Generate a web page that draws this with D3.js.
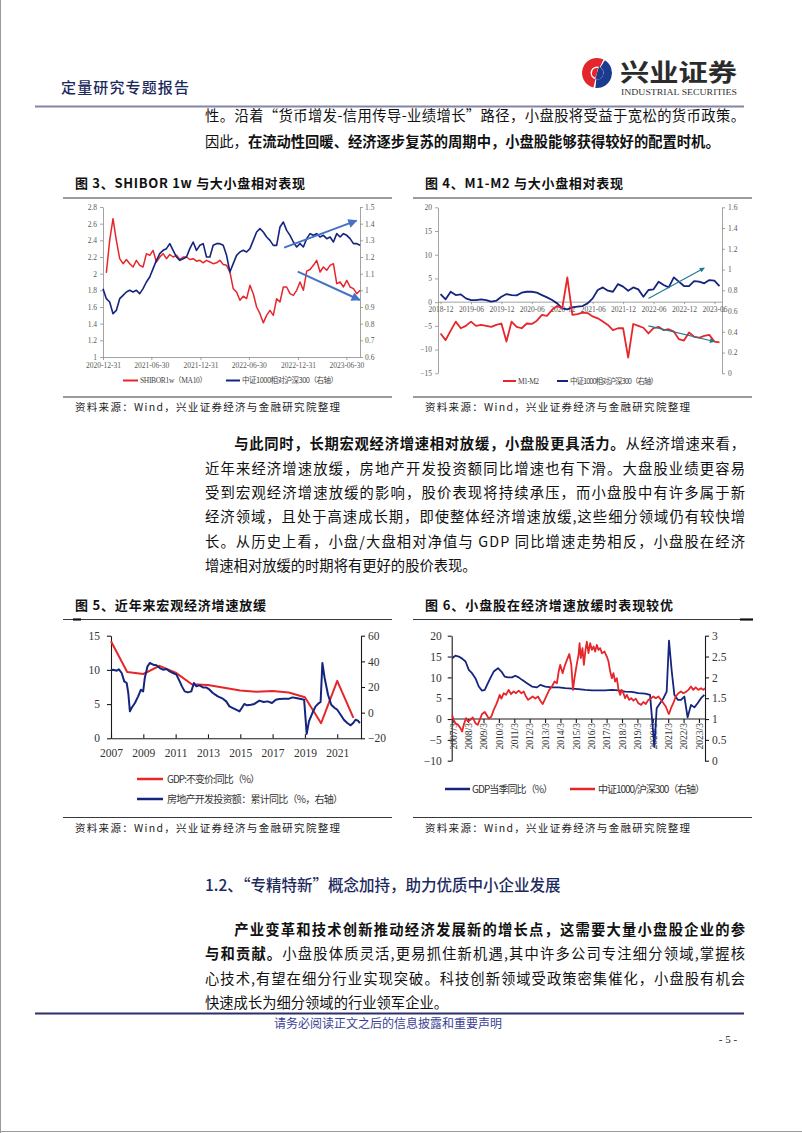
<!DOCTYPE html>
<html><head><meta charset="utf-8">
<script src="https://cdn.jsdelivr.net/npm/d3@7"></script>
<style>body{margin:0;background:#fff}svg{display:block}</style>
</head><body>
<svg id="page" width="802" height="1133"></svg>
<script>
// ================= DATA =================
// Chart 3: SHIBOR 1w (MA10) vs CSI1000 / CSI300 relative
const c3Start = "2020-12-31";           // first point of rel3, points every 12.5 days
const c3StepHours = 300;
const c3Ticks = ["2020-12-31","2021-06-30","2021-12-31","2022-06-30","2022-12-31","2023-06-30"];
const c3LeftTicks = [1,1.2,1.4,1.6,1.8,2,2.2,2.4,2.6,2.8];
const c3RightTicks = [0.6,0.7,0.8,0.9,1,1.1,1.2,1.3,1.4,1.5];
const rel3 = [1.01,0.95,0.93,0.86,0.88,0.95,0.97,0.99,1.00,0.99,
  1.00,0.98,1.01,1.05,1.08,1.13,1.18,1.22,1.24,1.25,
  1.28,1.24,1.20,1.18,1.19,1.20,1.25,1.29,1.24,1.27,
  1.28,1.20,1.20,1.27,1.28,1.28,1.27,1.21,1.11,1.16,
  1.21,1.23,1.24,1.23,1.25,1.30,1.35,1.37,1.35,1.32,
  1.30,1.27,1.27,1.38,1.41,1.36,1.33,1.29,1.26,1.28,
  1.26,1.31,1.34,1.33,1.34,1.32,1.33,1.31,1.32,1.29,
  1.34,1.32,1.34,1.33,1.31,1.28,1.28,1.27];
const shibor = [2.01,2.40,2.66,2.40,2.18,2.12,2.17,2.12,2.08,2.16,
  2.10,2.08,2.24,2.22,2.28,2.14,2.20,2.24,2.18,2.23,
  2.20,2.22,2.17,2.20,2.20,2.17,2.18,2.15,2.16,2.13,
  2.16,2.14,2.12,2.13,2.16,2.11,2.10,2.02,1.82,1.78,
  1.68,1.73,1.70,1.86,1.76,1.60,1.52,1.41,1.50,1.56,
  1.50,1.70,1.66,1.84,1.84,1.76,1.74,1.80,1.90,1.80,
  2.03,2.05,2.10,2.16,2.02,2.08,2.04,2.10,2.12,1.88,
  1.90,1.84,1.92,1.84,1.82,1.76,1.80];   // starts one step after c3Start
const arrows3 = [
  {axis:"R", from:["2022-11-09",1.256], to:["2023-08-07",1.418]},
  {axis:"L", from:["2022-12-30",2.024], to:["2023-08-19",1.684]}
];

// Chart 4: M1-M2 vs relative performance, monthly 2018-12 .. 2023-07
const c4FirstMonth = "2018-12";
const c4EndMonth = "2023-08";   // exclusive
const c4LabelMonths = ["2018-12","2019-06","2019-12","2020-06","2020-12","2021-06","2021-12","2022-06","2022-12","2023-06"];
const c4LeftTicks = [-15,-10,-5,0,5,10,15,20];
const c4RightTicks = [0,0.2,0.4,0.6,0.8,1,1.2,1.4,1.6];
const m1m2 = [-6.6,-8.0,-6.0,-4.1,-5.5,-5.0,-4.1,-5.0,-4.8,-5.0,
  -5.2,-4.8,-4.5,-8.3,-4.1,-5.2,-5.5,-4.5,-4.6,-3.9,
  -2.7,-2.9,-1.6,-0.8,-1.3,5.2,-2.7,-2.5,-2.2,-2.3,
  -3.0,-3.4,-4.1,-4.8,-5.9,-5.5,-5.5,-11.7,-4.6,-5.0,
  -5.4,-6.6,-5.5,-5.2,-5.9,-5.7,-6.2,-7.8,-8.1,-6.4,
  -7.3,-7.5,-7.1,-6.9,-8.3,-8.5];
const rel4 = [0.764,0.713,0.786,0.754,0.761,0.722,0.706,0.706,0.713,0.706,
  0.690,0.700,0.738,0.764,0.754,0.751,0.777,0.786,0.786,0.777,
  0.754,0.732,0.706,0.674,0.626,0.616,0.635,0.642,0.648,0.674,
  0.722,0.803,0.828,0.796,0.786,0.860,0.835,0.796,0.828,0.809,
  0.738,0.803,0.809,0.883,0.851,0.828,0.925,0.883,0.841,0.841,
  0.889,0.883,0.867,0.899,0.893,0.841];
const arrows4 = [
  {axis:"R", from:["2022-05",0.72], to:["2023-04",1.015]},
  {axis:"L", from:["2022-05",-5.0], to:["2023-06",-8.3]}
];

// Chart 5: GDP (annual) and real estate investment (cumulative yoy, right axis)
const gdpYears = [2007,2008,2009,2010,2011,2012,2013,2014,2015,2016,2017,2018,2019,2020,2021,2022];
const gdpAnnual = [14.2,9.7,9.4,10.6,9.6,7.9,7.8,7.4,7.0,6.8,6.9,6.7,6.0,2.2,8.4,3.0];
const reTime = [2007.00,2007.14,2007.35,2007.49,2007.66,2007.82,2007.97,2008.07,2008.17,2008.27,
  2008.48,2008.68,2008.85,2008.99,2009.09,2009.26,2009.40,2009.61,2009.81,2010.02,
  2010.22,2010.43,2010.63,2010.84,2011.05,2011.25,2011.39,2011.56,2011.76,2011.97,
  2012.13,2012.28,2012.48,2012.69,2012.89,2013.10,2013.30,2013.61,2013.92,2014.13,
  2014.33,2014.54,2014.74,2014.95,2015.09,2015.25,2015.42,2015.66,2015.87,2016.18,
  2016.45,2016.69,2016.96,2017.20,2017.41,2017.72,2018.02,2018.23,2018.44,2018.75,
  2018.95,2019.11,2019.25,2019.46,2019.66,2019.87,2019.97,2020.08,2020.22,2020.43,
  2020.63,2020.84,2021.00,2021.21,2021.41,2021.62,2021.83,2021.99,2022.13,2022.28,2022.40];
const reInv = [32.7,33.5,32.7,33.8,30.9,24.4,23.1,15.3,1.0,3.6,
  7.5,12.7,17.9,16.6,27.0,36.1,38.7,37.4,36.9,34.8,
  33.5,34.0,32.2,30.9,29.6,24.4,20.5,16.6,15.8,16.6,
  23.1,20.5,21.3,19.7,19.7,17.9,15.3,12.7,10.9,8.8,
  4.9,3.6,2.3,1.0,3.6,6.8,5.7,6.2,6.8,9.4,
  8.3,8.8,7.5,10.1,10.6,10.9,10.9,11.9,11.4,10.6,
  10.1,-16.6,-6.8,-0.3,4.9,7.5,8.3,38.7,27.0,14.0,
  6.2,3.6,2.3,-1.6,-5.5,-8.1,-9.9,-8.1,-5.5,-6.2,-8.1];
const c5XTicks = [2007,2009,2011,2013,2015,2017,2019,2021];
const c5LeftTicks = [0,5,10,15];
const c5RightTicks = [-20,0,20,40,60];

// Chart 6: quarterly GDP yoy and CSI1000/CSI300 (right axis)
const gdpQTime = [2007.13,2007.34,2007.56,2007.78,2008.00,2008.21,2008.42,2008.64,2008.86,2009.07,
  2009.25,2009.40,2009.61,2009.83,2010.11,2010.33,2010.54,2010.76,2011.02,2011.23,
  2011.45,2011.67,2011.99,2012.32,2012.64,2012.86,2013.18,2013.61,2014.05,2014.48,
  2014.91,2015.34,2015.78,2016.21,2016.64,2017.07,2017.51,2017.94,2018.37,2018.80,
  2019.23,2019.67,2019.99,2020.27,2020.42,2020.64,2020.86,2021.07,2021.22,2021.40,
  2021.57,2021.79,2022.00,2022.22,2022.43,2022.65,2022.87,2023.08,2023.30,2023.52];
const gdpQ = [14.6,15.2,15.0,14.5,13.8,11.8,11.0,9.8,7.8,6.8,
  7.0,8.2,9.8,11.4,12.2,11.4,10.2,10.0,10.0,10.4,
  10.0,9.4,8.6,7.8,7.6,8.2,7.8,7.6,7.6,7.4,
  7.3,7.2,7.0,6.9,6.9,6.9,7.0,6.9,6.6,6.5,
  6.2,6.1,5.8,-6.7,2.6,3.8,5.0,6.6,18.8,11.4,
  5.8,4.6,4.6,5.4,0.4,3.4,2.8,3.8,5.0,5.8];
const ratioTime = [2007.13,2007.23,2007.34,2007.52,2007.67,2007.78,2007.88,2008.03,2008.16,2008.32,
  2008.47,2008.64,2008.79,2008.92,2009.07,2009.25,2009.38,2009.51,2009.68,2009.83,
  2009.98,2010.11,2010.22,2010.33,2010.48,2010.63,2010.80,2010.95,2011.13,2011.28,
  2011.45,2011.62,2011.78,2011.93,2012.06,2012.21,2012.36,2012.53,2012.71,2012.86,
  2013.01,2013.14,2013.29,2013.44,2013.61,2013.79,2013.94,2014.05,2014.15,2014.31,
  2014.43,2014.59,2014.74,2014.87,2014.98,2015.08,2015.24,2015.34,2015.41,2015.49,
  2015.60,2015.69,2015.78,2015.88,2015.99,2016.10,2016.21,2016.32,2016.42,2016.53,
  2016.64,2016.75,2016.86,2017.03,2017.18,2017.29,2017.40,2017.51,2017.61,2017.72,
  2017.83,2017.94,2018.05,2018.15,2018.26,2018.37,2018.48,2018.63,2018.76,2018.91,
  2019.06,2019.23,2019.41,2019.56,2019.71,2019.88,2020.06,2020.21,2020.36,2020.53,
  2020.71,2020.86,2021.01,2021.14,2021.22,2021.35,2021.50,2021.66,2021.83,2022.00,
  2022.15,2022.31,2022.48,2022.65,2022.80,2022.95,2023.13,2023.30,2023.45,2023.56];
const ratio = [1.09,0.98,0.90,0.86,0.78,0.70,0.86,1.02,0.94,0.98,
  1.04,0.90,0.86,0.98,1.12,1.17,1.09,1.01,1.06,1.22,
  1.34,1.46,1.58,1.49,1.62,1.58,1.70,1.60,1.66,1.62,
  1.68,1.62,1.66,1.54,1.46,1.50,1.54,1.49,1.54,1.44,
  1.36,1.46,1.58,1.70,1.78,1.90,1.86,2.14,2.30,2.10,
  2.26,2.42,2.56,2.30,1.70,1.98,2.34,2.54,2.82,2.46,
  2.70,2.30,2.62,2.86,2.58,2.82,2.66,2.74,2.62,2.78,
  2.66,2.70,2.58,2.62,2.50,2.38,2.14,1.98,2.10,1.90,
  1.98,1.70,1.58,1.70,1.62,1.50,1.58,1.46,1.50,1.44,
  1.49,1.38,1.34,1.41,1.36,1.46,1.50,1.54,1.50,1.54,
  1.46,1.38,1.30,1.18,1.12,1.26,1.38,1.54,1.62,1.66,
  1.62,1.65,1.70,1.78,1.70,1.76,1.70,1.74,1.70,1.74];
const c6XYears = [2007,2008,2009,2010,2011,2012,2013,2014,2015,2016,2017,2018,2019,2020,2021,2022,2023];
const c6LeftTicks = [-10,-5,0,5,10,15,20];
const c6RightTicks = [0,0.5,1,1.5,2,2.5,3];

// Texts
const para1 = [
  [["性。沿着“货币增发-信用传导-业绩增长”路径，小盘股将受益于宽松的货币政策。",0]],
  [["因此，",0],["在流动性回暖、经济逐步复苏的周期中，小盘股能够获得较好的配置时机。",1]]
];
const para2 = [
  [["与此同时，长期宏观经济增速相对放缓，小盘股更具活力。",1],["从经济增速来看，",0]],
  [["近年来经济增速放缓，房地产开发投资额同比增速也有下滑。大盘股业绩更容易",0]],
  [["受到宏观经济增速放缓的影响，股价表现将持续承压，而小盘股中有许多属于新",0]],
  [["经济领域，且处于高速成长期，即使整体经济增速放缓,这些细分领域仍有较快增",0]],
  [["长。从历史上看，小盘/大盘相对净值与 GDP 同比增速走势相反，小盘股在经济",0]],
  [["增速相对放缓的时期将有更好的股价表现。",0]]
];
const para3 = [
  [["产业变革和技术创新推动经济发展新的增长点，这需要大量小盘股企业的参",1]],
  [["与和贡献。",1],["小盘股体质灵活,更易抓住新机遇,其中许多公司专注细分领域,掌握核",0]],
  [["心技术,有望在细分行业实现突破。科技创新领域受政策密集催化，小盘股有机会",0]],
  [["快速成长为细分领域的行业领军企业。",0]]
];
const sourceText = "资料来源：Wind，兴业证券经济与金融研究院整理";

// ================= DRAW =================
const CJK = '"Noto Sans CJK SC","Noto Sans",sans-serif';
const SERIF = '"Liberation Serif","Times New Roman",serif';
const RED = "#E6262B", NAVY = "#15247E";
const svg = d3.select("#page");
const parseDay = d3.timeParse("%Y-%m-%d");
const parseMonth = d3.timeParse("%Y-%m");

function textLine(parent, x, yc, parts, o) {
  const size = o.size;
  const t = parent.append("text").attr("x", x).attr("y", yc + size * 0.36)
    .attr("font-family", o.font || CJK).attr("font-size", size).attr("fill", o.color || "#111");
  if (o.anchor) t.attr("text-anchor", o.anchor);
  parts.forEach(p => t.append("tspan").text(p[0]).attr("font-weight", p[1] ? 700 : (o.weight || 400)));
  if (o.width) {
    const n = Array.from(parts.map(p => p[0]).join("")).length;
    const w = t.node().getComputedTextLength();
    if (n > 1) t.attr("letter-spacing", ((o.width - w) / (n - 1)).toFixed(3));
  }
  return t;
}

function styleAxis(g, o) {
  g.selectAll("path.domain").attr("stroke", o.line).attr("stroke-width", o.lw || 1);
  g.selectAll(".tick line").attr("stroke", o.line).attr("stroke-width", o.lw || 1);
  g.selectAll(".tick text").attr("fill", o.text).attr("font-family", SERIF).attr("font-size", o.size);
}
const fmt1 = d => String(+(+d).toFixed(1));

// page borders
svg.append("line").attr("x1",0.5).attr("x2",0.5).attr("y1",0).attr("y2",1133).attr("stroke","#9a9a9a");
svg.append("line").attr("x1",0).attr("x2",802).attr("y1",1131.5).attr("y2",1131.5).attr("stroke","#9a9a9a");

// header
textLine(svg, 61, 88, [["定量研究专题报告",0]], {size:15, color:"#1d2a5e", width:128, weight:500});
svg.append("line").attr("x1",35).attr("x2",744).attr("y1",106.5).attr("y2",106.5).attr("stroke","#8586a6").attr("stroke-width",2);
// logo
const logo = svg.append("g").attr("transform","translate(597,73)");
logo.append("path").attr("d", d3.arc()({innerRadius:6.5, outerRadius:15, startAngle:-2.9, endAngle:0.45})).attr("fill","#E3262C");
logo.append("path").attr("d", d3.arc()({innerRadius:6.5, outerRadius:15, startAngle:0.55, endAngle:3.25})).attr("fill","#1b3b8f");
logo.append("path").attr("d", d3.arc()({innerRadius:0, outerRadius:6.5, startAngle:0.3, endAngle:3.4})).attr("fill","#1b3b8f");
logo.append("path").attr("d", d3.arc()({innerRadius:0, outerRadius:5, startAngle:-2.8, endAngle:0.2})).attr("fill","#E3262C");
svg.append("text").attr("x",620).attr("y",81).attr("font-family",CJK).attr("font-weight",700).attr("font-size",24)
  .attr("fill","#2b2b2b").attr("textLength",117).attr("lengthAdjust","spacingAndGlyphs").text("兴业证券");
svg.append("text").attr("x",621).attr("y",94.5).attr("font-family",SERIF).attr("font-size",8.5)
  .attr("fill","#333").attr("textLength",116).attr("lengthAdjust","spacingAndGlyphs").text("INDUSTRIAL SECURITIES");

// body text
const TX0 = 205, TX1 = 745, TS = 14.3;
textLine(svg, TX0, 116, para1[0], {size:TS, width:TX1-TX0});
textLine(svg, TX0, 142, para1[1], {size:TS});
const p2y = [444,468.4,492.8,517.2,541.6,566];
para2.forEach((ln,i) => {
  const x = i === 0 ? TX0 + 2*14.6 : TX0;
  textLine(svg, x, p2y[i], ln, {size:TS, width: i < para2.length-1 ? TX1 - x : null});
});
textLine(svg, TX0, 885, [["1.2、“专精特新”概念加持，助力优质中小企业发展",0]], {size:15.5, color:"#1d2a5e", weight:500});
const p3y = [930,954.3,978.6,1003];
para3.forEach((ln,i) => {
  const x = i === 0 ? TX0 + 2*14.6 : TX0;
  textLine(svg, x, p3y[i], ln, {size:TS, width: i < para3.length-1 ? TX1 - x : null});
});
// footer
svg.append("line").attr("x1",35).attr("x2",744).attr("y1",1013.5).attr("y2",1013.5).attr("stroke","#2b2f6b").attr("stroke-width",2);
textLine(svg, 388, 1024, [["请务必阅读正文之后的信息披露和重要声明",0]], {size:12, color:"#3b3f95", anchor:"middle"});
svg.append("text").attr("x",728).attr("y",1043).attr("text-anchor","middle").attr("font-family",SERIF).attr("font-size",11).attr("fill","#222").text("- 5 -");

// chart frames
function frame(x0, x1, title, titleW, yTitle, yRule, yBottom, ySource) {
  textLine(svg, x0 + 12, yTitle, [[title,1]], {size:13, color:"#111", width:titleW});
  svg.append("line").attr("x1",x0).attr("x2",x1).attr("y1",yRule).attr("y2",yRule).attr("stroke","#222").attr("stroke-width",0.9);
  svg.append("line").attr("x1",x0).attr("x2",x1).attr("y1",yBottom).attr("y2",yBottom).attr("stroke","#222").attr("stroke-width",0.9);
  textLine(svg, x0 + 12, ySource, [[sourceText,0]], {size:10.5, color:"#222", width:265});
}
frame(63, 392, "图 3、SHIBOR 1w 与大小盘相对表现", 230, 183.5, 198, 397, 407);
frame(413, 752, "图 4、M1-M2 与大小盘相对表现", 198, 183.5, 198, 397, 407);
frame(63, 392, "图 5、近年来宏观经济增速放缓", 191, 605, 619.5, 817.5, 828);
frame(413, 752, "图 6、小盘股在经济增速放缓时表现较优", 248, 605, 619.5, 817.5, 828);
svg.append("line").attr("x1",73).attr("x2",81).attr("y1",619.5).attr("y2",619.5).attr("stroke","#111").attr("stroke-width",2.2);
svg.append("line").attr("x1",740).attr("x2",753).attr("y1",619.5).attr("y2",619.5).attr("stroke","#111").attr("stroke-width",2.2);

// arrow markers
const defs = svg.append("defs");
function marker(id, color, w, h) {
  defs.append("marker").attr("id", id).attr("viewBox","0 0 10 10").attr("refX",9).attr("refY",5)
    .attr("markerWidth", w).attr("markerHeight", h).attr("markerUnits","userSpaceOnUse").attr("orient","auto")
    .append("path").attr("d","M0,0 L10,5 L0,10 z").attr("fill", color);
}
marker("arr3", "#4472C4", 10, 9);
marker("arr4", "#1f7a8c", 6, 5);

// ---------- Chart 3 ----------
{
  const X0 = 103, X1 = 360, Y0 = 207, Y1 = 357;
  const g = svg.append("g");
  const x = d3.scaleTime().domain([parseDay("2020-12-31"), parseDay("2023-08-20")]).range([X0, X1]);
  const yL = d3.scaleLinear().domain([1, 2.8]).range([Y1, Y0]);
  const yR = d3.scaleLinear().domain([0.6, 1.5]).range([Y1, Y0]);
  const t0 = parseDay(c3Start);
  const dateAt = k => d3.timeHour.offset(t0, k * c3StepHours);
  const ax = {line:"#8c8c8c", text:"#595959", size:7.5, lw:0.8};
  styleAxis(g.append("g").attr("transform",`translate(${X0},0)`).call(d3.axisLeft(yL).tickValues(c3LeftTicks).tickSize(3).tickSizeOuter(0).tickPadding(3).tickFormat(fmt1)), ax);
  styleAxis(g.append("g").attr("transform",`translate(${X1},0)`).call(d3.axisRight(yR).tickValues(c3RightTicks).tickSize(3).tickSizeOuter(0).tickPadding(2).tickFormat(fmt1)), ax);
  styleAxis(g.append("g").attr("transform",`translate(0,${Y1})`).call(d3.axisBottom(x).tickValues(c3Ticks.map(parseDay)).tickSize(3).tickSizeOuter(0).tickPadding(3).tickFormat(d3.timeFormat("%Y-%m-%d"))), ax);
  const lineR = d3.line().x((d,i) => x(dateAt(i+1))).y(d => yL(d));
  const lineB = d3.line().x((d,i) => x(dateAt(i))).y(d => yR(d));
  g.append("path").attr("d", lineR(shibor)).attr("fill","none").attr("stroke",RED).attr("stroke-width",1.5).attr("stroke-linejoin","round");
  g.append("path").attr("d", lineB(rel3)).attr("fill","none").attr("stroke",NAVY).attr("stroke-width",1.6).attr("stroke-linejoin","round");
  arrows3.forEach(a => {
    const ys = a.axis === "R" ? yR : yL;
    g.append("line").attr("x1", x(parseDay(a.from[0]))).attr("y1", ys(a.from[1]))
      .attr("x2", x(parseDay(a.to[0]))).attr("y2", ys(a.to[1]))
      .attr("stroke","#4472C4").attr("stroke-width",2).attr("marker-end","url(#arr3)");
  });
  // legend
  g.append("line").attr("x1",123).attr("x2",138).attr("y1",380.5).attr("y2",380.5).attr("stroke",RED).attr("stroke-width",2);
  textLine(g, 140, 380.5, [["SHIBOR1w（MA10）",0]], {size:7.5, color:"#444", font:SERIF+","+CJK, width:67});
  g.append("line").attr("x1",226).attr("x2",240).attr("y1",380.5).attr("y2",380.5).attr("stroke",NAVY).attr("stroke-width",2);
  textLine(g, 242, 380.5, [["中证1000相对沪深300（右轴）",0]], {size:7.5, color:"#444", width:96});
}

// ---------- Chart 4 ----------
{
  const X0 = 438, X1 = 722, Y0 = 207.3, Y1 = 373.3;
  const g = svg.append("g");
  const months = d3.timeMonth.range(parseMonth(c4FirstMonth), parseMonth(c4EndMonth));
  const keyF = d3.timeFormat("%Y-%m");
  const x = d3.scalePoint().domain(months.map(keyF)).range([X0, X1]).padding(0.5);
  const yL = d3.scaleLinear().domain([-15, 20]).range([Y1, Y0]);
  const yR = d3.scaleLinear().domain([0, 1.6]).range([Y1, Y0]);
  const ax = {line:"#8c8c8c", text:"#595959", size:7.5, lw:0.8};
  styleAxis(g.append("g").attr("transform",`translate(${X0},0)`).call(d3.axisLeft(yL).tickValues(c4LeftTicks).tickSize(3).tickSizeOuter(0).tickPadding(3)), ax);
  styleAxis(g.append("g").attr("transform",`translate(${X1},0)`).call(d3.axisRight(yR).tickValues(c4RightTicks).tickSize(3).tickSizeOuter(0).tickPadding(3).tickFormat(fmt1)), ax);
  const xa = g.append("g").attr("transform",`translate(0,${yL(0)})`)
    .call(d3.axisBottom(x).tickValues(c4LabelMonths).tickSize(2).tickSizeOuter(0).tickPadding(3));
  styleAxis(xa, ax);
  xa.select("path.domain").attr("d", `M${X0},0H${X1}`);
  g.append("path").attr("d", d3.line().x((d,i) => x(keyF(months[i]))).y(d => yR(d))(rel4))
    .attr("fill","none").attr("stroke",NAVY).attr("stroke-width",1.8).attr("stroke-linejoin","round");
  g.append("path").attr("d", d3.line().x((d,i) => x(keyF(months[i]))).y(d => yL(d))(m1m2))
    .attr("fill","none").attr("stroke",RED).attr("stroke-width",1.8).attr("stroke-linejoin","round");
  arrows4.forEach(a => {
    const ys = a.axis === "R" ? yR : yL;
    g.append("line").attr("x1", x(a.from[0])).attr("y1", ys(a.from[1]))
      .attr("x2", x(a.to[0])).attr("y2", ys(a.to[1]))
      .attr("stroke","#1f7a8c").attr("stroke-width",1.1).attr("marker-end","url(#arr4)");
  });
  g.append("line").attr("x1",503).attr("x2",516).attr("y1",381).attr("y2",381).attr("stroke",RED).attr("stroke-width",2);
  textLine(g, 518, 381, [["M1-M2",0]], {size:7.5, color:"#444", font:SERIF, width:21});
  g.append("line").attr("x1",557).attr("x2",568).attr("y1",381).attr("y2",381).attr("stroke",NAVY).attr("stroke-width",2);
  textLine(g, 570, 381, [["中证1000相对沪深300（右轴）",0]], {size:7.5, color:"#444", width:88});
}

// ---------- Chart 5 ----------
{
  const X0 = 111, X1 = 361, Y0 = 635.7, Y1 = 738.3;
  const g = svg.append("g");
  const x = d3.scaleLinear().domain([2007, 2022.47]).range([X0, X1]);
  const yL = d3.scaleLinear().domain([0, 15]).range([Y1, Y0]);
  const yR = d3.scaleLinear().domain([-20, 60]).range([Y1, Y0]);
  const ax = {line:"#1a1a1a", text:"#333", size:11.5, lw:1.1};
  styleAxis(g.append("g").attr("transform",`translate(${X0},0)`).call(d3.axisLeft(yL).tickValues(c5LeftTicks).tickSize(4).tickSizeOuter(0).tickPadding(7)), ax);
  styleAxis(g.append("g").attr("transform",`translate(${X1},0)`).call(d3.axisRight(yR).tickValues(c5RightTicks).tickSize(4).tickSizeOuter(0).tickPadding(3)), ax);
  const xa = g.append("g").attr("transform",`translate(0,${Y1})`)
    .call(d3.axisBottom(x).tickValues(c5XTicks).tickSize(-4).tickSizeOuter(0).tickPadding(11).tickFormat(d3.format("d")));
  styleAxis(xa, ax);
  g.append("path").attr("d", d3.line().x((d,i) => x(gdpYears[i])).y(d => yL(d))(gdpAnnual))
    .attr("fill","none").attr("stroke",RED).attr("stroke-width",2).attr("stroke-linejoin","round");
  g.append("path").attr("d", d3.line().x((d,i) => x(reTime[i])).y(d => yR(d))(reInv))
    .attr("fill","none").attr("stroke",NAVY).attr("stroke-width",2).attr("stroke-linejoin","round");
  g.append("line").attr("x1",137).attr("x2",163).attr("y1",779).attr("y2",779).attr("stroke",RED).attr("stroke-width",2.5);
  textLine(g, 167, 779, [["GDP:不变价:同比（%）",0]], {size:10, color:"#333", width:93});
  g.append("line").attr("x1",137).attr("x2",163).attr("y1",799).attr("y2",799).attr("stroke",NAVY).attr("stroke-width",2.5);
  textLine(g, 167, 799, [["房地产开发投资额：累计同比（%，右轴）",0]], {size:10, color:"#333", width:176});
}

// ---------- Chart 6 ----------
{
  const X0 = 451.7, X1 = 705, Y0 = 635.7, Y1 = 760.7;
  const g = svg.append("g");
  const x = d3.scaleLinear().domain([2007.1, 2023.56]).range([X0, X1]);
  const yL = d3.scaleLinear().domain([-10, 20]).range([Y1, Y0]);
  const yR = d3.scaleLinear().domain([0, 3]).range([Y1, Y0]);
  const ax = {line:"#1a1a1a", text:"#333", size:11.5, lw:1.1};
  styleAxis(g.append("g").attr("transform",`translate(${X0},0)`).call(d3.axisLeft(yL).tickValues(c6LeftTicks).tickSize(4).tickSizeOuter(0).tickPadding(6)), ax);
  styleAxis(g.append("g").attr("transform",`translate(${X1},0)`).call(d3.axisRight(yR).tickValues(c6RightTicks).tickSize(4).tickSizeOuter(0).tickPadding(3).tickFormat(fmt1)), ax);
  const xa = g.append("g").attr("transform",`translate(0,${yL(0)})`)
    .call(d3.axisBottom(x).tickValues(c6XYears.map(y => y + 2/12)).tickSize(4).tickSizeOuter(0).tickFormat(d => Math.round(d - 2/12) + "/3"));
  styleAxis(xa, {line:"#1a1a1a", text:"#333", size:9.5, lw:1.1});
  xa.select("path.domain").attr("d", `M${X0},0H${X1}`);
  xa.selectAll(".tick text").attr("transform","rotate(-90)").attr("text-anchor","end")
    .attr("x",-4).attr("y",0).attr("dy","0.35em");
  g.append("path").attr("d", d3.line().x((d,i) => x(gdpQTime[i])).y(d => yL(d))(gdpQ))
    .attr("fill","none").attr("stroke",NAVY).attr("stroke-width",1.8).attr("stroke-linejoin","round");
  g.append("path").attr("d", d3.line().x((d,i) => x(ratioTime[i])).y(d => yR(d))(ratio))
    .attr("fill","none").attr("stroke",RED).attr("stroke-width",1.8).attr("stroke-linejoin","round");
  g.append("line").attr("x1",445).attr("x2",470).attr("y1",789).attr("y2",789).attr("stroke",NAVY).attr("stroke-width",2.5);
  textLine(g, 472, 789, [["GDP当季同比（%）",0]], {size:10, color:"#333", width:81});
  g.append("line").attr("x1",570).attr("x2",595).attr("y1",789).attr("y2",789).attr("stroke",RED).attr("stroke-width",2.5);
  textLine(g, 598, 789, [["中证1000/沪深300（右轴）",0]], {size:10, color:"#333", width:107});
}
</script>
</body></html>
